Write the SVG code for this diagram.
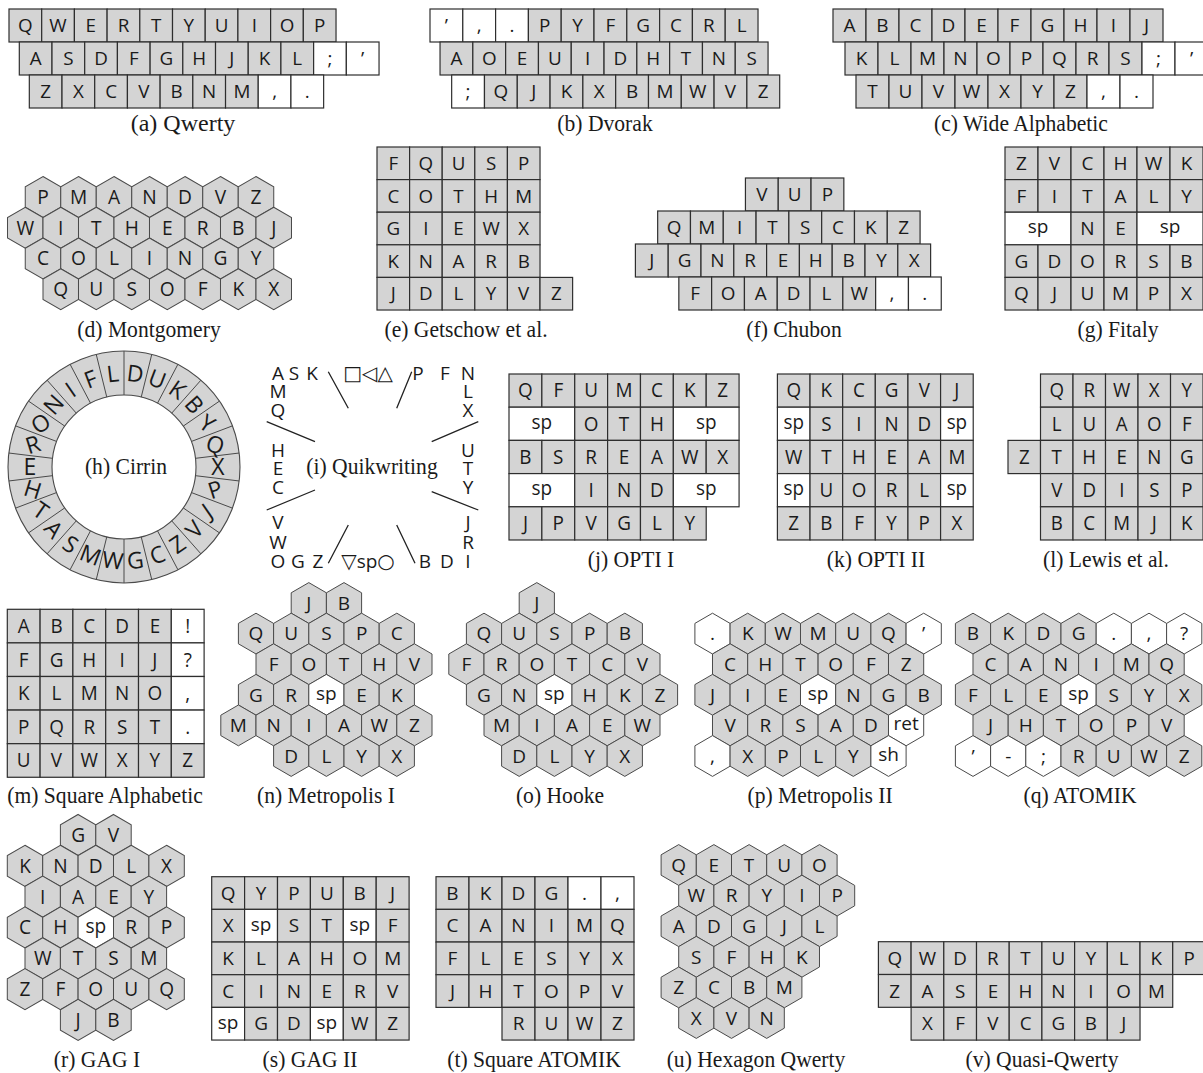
<svg xmlns="http://www.w3.org/2000/svg" width="1203" height="1073" viewBox="0 0 1203 1073">
<style>
text{font-family:"Open Sans","Noto Sans","DejaVu Sans",sans-serif;font-size:19px;text-anchor:middle;fill:#1a1a1a}
text.c{font-family:"Liberation Serif","Times New Roman",serif;font-size:24px}
text.cr{font-size:23px}
tspan.sy{font-family:"DejaVu Sans",sans-serif;font-size:20px}
.ln{stroke:#222;stroke-width:1.3;fill:none}
</style>
<defs>
<rect id="kg" width="33" height="33" fill="#d4d4d4" stroke="#2e2e2e" stroke-width="1.2"/>
<rect id="kw" width="33" height="33" fill="#ffffff" stroke="#2e2e2e" stroke-width="1.2"/>
<rect id="kw2" width="66" height="33" fill="#ffffff" stroke="#2e2e2e" stroke-width="1.2"/>
<path id="hg" d="M0,-20.4L17.6,-10.2L17.6,10.2L0,20.4L-17.6,10.2L-17.6,-10.2Z" fill="#d4d4d4" stroke="#4a4a4a" stroke-width="1"/>
<path id="hw" d="M0,-20.4L17.6,-10.2L17.6,10.2L0,20.4L-17.6,10.2L-17.6,-10.2Z" fill="#ffffff" stroke="#4a4a4a" stroke-width="1"/>
</defs>
<rect width="1203" height="1073" fill="#ffffff"/>

<!-- (a) Qwerty -->
<g id="a-qwerty">
<g transform="translate(9,9) scale(0.991,1)">
<g>
<use href="#kg"/><use href="#kg" x="33"/><use href="#kg" x="66"/><use href="#kg" x="99"/><use href="#kg" x="132"/><use href="#kg" x="165"/><use href="#kg" x="198"/><use href="#kg" x="231"/><use href="#kg" x="264"/><use href="#kg" x="297"/>
<text x="16.5" y="23.3">Q</text><text x="49.5" y="23.3">W</text><text x="82.5" y="23.3">E</text><text x="115.5" y="23.3">R</text><text x="148.5" y="23.3">T</text><text x="181.5" y="23.3">Y</text><text x="214.5" y="23.3">U</text><text x="247.5" y="23.3">I</text><text x="280.5" y="23.3">O</text><text x="313.5" y="23.3">P</text>
</g>
<g transform="translate(10.4,33)">
<use href="#kg"/><use href="#kg" x="33"/><use href="#kg" x="66"/><use href="#kg" x="99"/><use href="#kg" x="132"/><use href="#kg" x="165"/><use href="#kg" x="198"/><use href="#kg" x="231"/><use href="#kg" x="264"/><use href="#kw" x="297"/><use href="#kw" x="330"/>
<text x="16.5" y="23.3">A</text><text x="49.5" y="23.3">S</text><text x="82.5" y="23.3">D</text><text x="115.5" y="23.3">F</text><text x="148.5" y="23.3">G</text><text x="181.5" y="23.3">H</text><text x="214.5" y="23.3">J</text><text x="247.5" y="23.3">K</text><text x="280.5" y="23.3">L</text><text x="313.5" y="23.3">;</text><text x="346.5" y="23.3">’</text>
</g>
<g transform="translate(20.5,66)">
<use href="#kg"/><use href="#kg" x="33"/><use href="#kg" x="66"/><use href="#kg" x="99"/><use href="#kg" x="132"/><use href="#kg" x="165"/><use href="#kg" x="198"/><use href="#kw" x="231"/><use href="#kw" x="264"/>
<text x="16.5" y="23.3">Z</text><text x="49.5" y="23.3">X</text><text x="82.5" y="23.3">C</text><text x="115.5" y="23.3">V</text><text x="148.5" y="23.3">B</text><text x="181.5" y="23.3">N</text><text x="214.5" y="23.3">M</text><text x="247.5" y="23.3">,</text><text x="280.5" y="23.3">.</text>
</g>
</g>
<text class="c" transform="translate(183,131)">(a) Qwerty</text>
</g>

<!-- (b) Dvorak -->
<g id="b-dvorak">
<g transform="translate(430,9) scale(0.994,1)">
<g>
<use href="#kw"/><use href="#kw" x="33"/><use href="#kw" x="66"/><use href="#kg" x="99"/><use href="#kg" x="132"/><use href="#kg" x="165"/><use href="#kg" x="198"/><use href="#kg" x="231"/><use href="#kg" x="264"/><use href="#kg" x="297"/>
<text x="16.5" y="23.3">’</text><text x="49.5" y="23.3">,</text><text x="82.5" y="23.3">.</text><text x="115.5" y="23.3">P</text><text x="148.5" y="23.3">Y</text><text x="181.5" y="23.3">F</text><text x="214.5" y="23.3">G</text><text x="247.5" y="23.3">C</text><text x="280.5" y="23.3">R</text><text x="313.5" y="23.3">L</text>
</g>
<g transform="translate(10.1,33)">
<use href="#kg"/><use href="#kg" x="33"/><use href="#kg" x="66"/><use href="#kg" x="99"/><use href="#kg" x="132"/><use href="#kg" x="165"/><use href="#kg" x="198"/><use href="#kg" x="231"/><use href="#kg" x="264"/><use href="#kg" x="297"/>
<text x="16.5" y="23.3">A</text><text x="49.5" y="23.3">O</text><text x="82.5" y="23.3">E</text><text x="115.5" y="23.3">U</text><text x="148.5" y="23.3">I</text><text x="181.5" y="23.3">D</text><text x="214.5" y="23.3">H</text><text x="247.5" y="23.3">T</text><text x="280.5" y="23.3">N</text><text x="313.5" y="23.3">S</text>
</g>
<g transform="translate(21.8,66)">
<use href="#kw"/><use href="#kg" x="33"/><use href="#kg" x="66"/><use href="#kg" x="99"/><use href="#kg" x="132"/><use href="#kg" x="165"/><use href="#kg" x="198"/><use href="#kg" x="231"/><use href="#kg" x="264"/><use href="#kg" x="297"/>
<text x="16.5" y="23.3">;</text><text x="49.5" y="23.3">Q</text><text x="82.5" y="23.3">J</text><text x="115.5" y="23.3">K</text><text x="148.5" y="23.3">X</text><text x="181.5" y="23.3">B</text><text x="214.5" y="23.3">M</text><text x="247.5" y="23.3">W</text><text x="280.5" y="23.3">V</text><text x="313.5" y="23.3">Z</text>
</g>
</g>
<text class="c" transform="translate(605,131) scale(0.9,1)">(b) Dvorak</text>
</g>

<!-- (c) Wide Alphabetic -->
<g id="c-wide-alphabetic">
<g transform="translate(833,9)">
<g>
<use href="#kg"/><use href="#kg" x="33"/><use href="#kg" x="66"/><use href="#kg" x="99"/><use href="#kg" x="132"/><use href="#kg" x="165"/><use href="#kg" x="198"/><use href="#kg" x="231"/><use href="#kg" x="264"/><use href="#kg" x="297"/>
<text x="16.5" y="23.3">A</text><text x="49.5" y="23.3">B</text><text x="82.5" y="23.3">C</text><text x="115.5" y="23.3">D</text><text x="148.5" y="23.3">E</text><text x="181.5" y="23.3">F</text><text x="214.5" y="23.3">G</text><text x="247.5" y="23.3">H</text><text x="280.5" y="23.3">I</text><text x="313.5" y="23.3">J</text>
</g>
<g transform="translate(12,33)">
<use href="#kg"/><use href="#kg" x="33"/><use href="#kg" x="66"/><use href="#kg" x="99"/><use href="#kg" x="132"/><use href="#kg" x="165"/><use href="#kg" x="198"/><use href="#kg" x="231"/><use href="#kg" x="264"/><use href="#kw" x="297"/><use href="#kw" x="330"/>
<text x="16.5" y="23.3">K</text><text x="49.5" y="23.3">L</text><text x="82.5" y="23.3">M</text><text x="115.5" y="23.3">N</text><text x="148.5" y="23.3">O</text><text x="181.5" y="23.3">P</text><text x="214.5" y="23.3">Q</text><text x="247.5" y="23.3">R</text><text x="280.5" y="23.3">S</text><text x="313.5" y="23.3">;</text><text x="346.5" y="23.3">’</text>
</g>
<g transform="translate(23,66)">
<use href="#kg"/><use href="#kg" x="33"/><use href="#kg" x="66"/><use href="#kg" x="99"/><use href="#kg" x="132"/><use href="#kg" x="165"/><use href="#kg" x="198"/><use href="#kw" x="231"/><use href="#kw" x="264"/>
<text x="16.5" y="23.3">T</text><text x="49.5" y="23.3">U</text><text x="82.5" y="23.3">V</text><text x="115.5" y="23.3">W</text><text x="148.5" y="23.3">X</text><text x="181.5" y="23.3">Y</text><text x="214.5" y="23.3">Z</text><text x="247.5" y="23.3">,</text><text x="280.5" y="23.3">.</text>
</g>
</g>
<text class="c" transform="translate(1021,131) scale(0.9,1)">(c) Wide Alphabetic</text>
</g>

<!-- (d) Montgomery -->
<g id="d-montgomery">
<g transform="translate(43,197) scale(1.0085,1.005)">
<g>
<use href="#hg"/><use href="#hg" x="35.2"/><use href="#hg" x="70.4"/><use href="#hg" x="105.6"/><use href="#hg" x="140.8"/><use href="#hg" x="176"/><use href="#hg" x="211.2"/>
<text x="0" y="6.8">P</text><text x="35.2" y="6.8">M</text><text x="70.4" y="6.8">A</text><text x="105.6" y="6.8">N</text><text x="140.8" y="6.8">D</text><text x="176" y="6.8">V</text><text x="211.2" y="6.8">Z</text>
</g>
<g transform="translate(-17.6,30.6)">
<use href="#hg"/><use href="#hg" x="35.2"/><use href="#hg" x="70.4"/><use href="#hg" x="105.6"/><use href="#hg" x="140.8"/><use href="#hg" x="176"/><use href="#hg" x="211.2"/><use href="#hg" x="246.4"/>
<text x="0" y="6.8">W</text><text x="35.2" y="6.8">I</text><text x="70.4" y="6.8">T</text><text x="105.6" y="6.8">H</text><text x="140.8" y="6.8">E</text><text x="176" y="6.8">R</text><text x="211.2" y="6.8">B</text><text x="246.4" y="6.8">J</text>
</g>
<g transform="translate(0,61.2)">
<use href="#hg"/><use href="#hg" x="35.2"/><use href="#hg" x="70.4"/><use href="#hg" x="105.6"/><use href="#hg" x="140.8"/><use href="#hg" x="176"/><use href="#hg" x="211.2"/>
<text x="0" y="6.8">C</text><text x="35.2" y="6.8">O</text><text x="70.4" y="6.8">L</text><text x="105.6" y="6.8">I</text><text x="140.8" y="6.8">N</text><text x="176" y="6.8">G</text><text x="211.2" y="6.8">Y</text>
</g>
<g transform="translate(17.6,91.8)">
<use href="#hg"/><use href="#hg" x="35.2"/><use href="#hg" x="70.4"/><use href="#hg" x="105.6"/><use href="#hg" x="140.8"/><use href="#hg" x="176"/><use href="#hg" x="211.2"/>
<text x="0" y="6.8">Q</text><text x="35.2" y="6.8">U</text><text x="70.4" y="6.8">S</text><text x="105.6" y="6.8">O</text><text x="140.8" y="6.8">F</text><text x="176" y="6.8">K</text><text x="211.2" y="6.8">X</text>
</g>
</g>
<text class="c" transform="translate(149,337) scale(0.9,1)">(d) Montgomery</text>
</g>

<!-- (e) Getschow et al. -->
<g id="e-getschow">
<g transform="translate(377,147) scale(0.988,0.988)">
<g>
<use href="#kg"/><use href="#kg" x="33"/><use href="#kg" x="66"/><use href="#kg" x="99"/><use href="#kg" x="132"/>
<text x="16.5" y="23.3">F</text><text x="49.5" y="23.3">Q</text><text x="82.5" y="23.3">U</text><text x="115.5" y="23.3">S</text><text x="148.5" y="23.3">P</text>
</g>
<g transform="translate(0,33)">
<use href="#kg"/><use href="#kg" x="33"/><use href="#kg" x="66"/><use href="#kg" x="99"/><use href="#kg" x="132"/>
<text x="16.5" y="23.3">C</text><text x="49.5" y="23.3">O</text><text x="82.5" y="23.3">T</text><text x="115.5" y="23.3">H</text><text x="148.5" y="23.3">M</text>
</g>
<g transform="translate(0,66)">
<use href="#kg"/><use href="#kg" x="33"/><use href="#kg" x="66"/><use href="#kg" x="99"/><use href="#kg" x="132"/>
<text x="16.5" y="23.3">G</text><text x="49.5" y="23.3">I</text><text x="82.5" y="23.3">E</text><text x="115.5" y="23.3">W</text><text x="148.5" y="23.3">X</text>
</g>
<g transform="translate(0,99)">
<use href="#kg"/><use href="#kg" x="33"/><use href="#kg" x="66"/><use href="#kg" x="99"/><use href="#kg" x="132"/>
<text x="16.5" y="23.3">K</text><text x="49.5" y="23.3">N</text><text x="82.5" y="23.3">A</text><text x="115.5" y="23.3">R</text><text x="148.5" y="23.3">B</text>
</g>
<g transform="translate(0,132)">
<use href="#kg"/><use href="#kg" x="33"/><use href="#kg" x="66"/><use href="#kg" x="99"/><use href="#kg" x="132"/><use href="#kg" x="165"/>
<text x="16.5" y="23.3">J</text><text x="49.5" y="23.3">D</text><text x="82.5" y="23.3">L</text><text x="115.5" y="23.3">Y</text><text x="148.5" y="23.3">V</text><text x="181.5" y="23.3">Z</text>
</g>
</g>
<text class="c" transform="translate(466,337) scale(0.9,1)">(e) Getschow et al.</text>
</g>

<!-- (f) Chubon -->
<g id="f-chubon">
<g transform="translate(635.4,178) scale(0.994,1)">
<g transform="translate(110.7,0)">
<use href="#kg"/><use href="#kg" x="33"/><use href="#kg" x="66"/>
<text x="16.5" y="23.3">V</text><text x="49.5" y="23.3">U</text><text x="82.5" y="23.3">P</text>
</g>
<g transform="translate(22.4,33)">
<use href="#kg"/><use href="#kg" x="33"/><use href="#kg" x="66"/><use href="#kg" x="99"/><use href="#kg" x="132"/><use href="#kg" x="165"/><use href="#kg" x="198"/><use href="#kg" x="231"/>
<text x="16.5" y="23.3">Q</text><text x="49.5" y="23.3">M</text><text x="82.5" y="23.3">I</text><text x="115.5" y="23.3">T</text><text x="148.5" y="23.3">S</text><text x="181.5" y="23.3">C</text><text x="214.5" y="23.3">K</text><text x="247.5" y="23.3">Z</text>
</g>
<g transform="translate(0,66)">
<use href="#kg"/><use href="#kg" x="33"/><use href="#kg" x="66"/><use href="#kg" x="99"/><use href="#kg" x="132"/><use href="#kg" x="165"/><use href="#kg" x="198"/><use href="#kg" x="231"/><use href="#kg" x="264"/>
<text x="16.5" y="23.3">J</text><text x="49.5" y="23.3">G</text><text x="82.5" y="23.3">N</text><text x="115.5" y="23.3">R</text><text x="148.5" y="23.3">E</text><text x="181.5" y="23.3">H</text><text x="214.5" y="23.3">B</text><text x="247.5" y="23.3">Y</text><text x="280.5" y="23.3">X</text>
</g>
<g transform="translate(43.7,99)">
<use href="#kg"/><use href="#kg" x="33"/><use href="#kg" x="66"/><use href="#kg" x="99"/><use href="#kg" x="132"/><use href="#kg" x="165"/><use href="#kw" x="198"/><use href="#kw" x="231"/>
<text x="16.5" y="23.3">F</text><text x="49.5" y="23.3">O</text><text x="82.5" y="23.3">A</text><text x="115.5" y="23.3">D</text><text x="148.5" y="23.3">L</text><text x="181.5" y="23.3">W</text><text x="214.5" y="23.3">,</text><text x="247.5" y="23.3">.</text>
</g>
</g>
<text class="c" transform="translate(794,337) scale(0.9,1)">(f) Chubon</text>
</g>

<!-- (g) Fitaly -->
<g id="g-fitaly">
<g transform="translate(1005,147) scale(1,0.988)">
<g>
<use href="#kg"/><use href="#kg" x="33"/><use href="#kg" x="66"/><use href="#kg" x="99"/><use href="#kg" x="132"/><use href="#kg" x="165"/>
<text x="16.5" y="23.3">Z</text><text x="49.5" y="23.3">V</text><text x="82.5" y="23.3">C</text><text x="115.5" y="23.3">H</text><text x="148.5" y="23.3">W</text><text x="181.5" y="23.3">K</text>
</g>
<g transform="translate(0,33)">
<use href="#kg"/><use href="#kg" x="33"/><use href="#kg" x="66"/><use href="#kg" x="99"/><use href="#kg" x="132"/><use href="#kg" x="165"/>
<text x="16.5" y="23.3">F</text><text x="49.5" y="23.3">I</text><text x="82.5" y="23.3">T</text><text x="115.5" y="23.3">A</text><text x="148.5" y="23.3">L</text><text x="181.5" y="23.3">Y</text>
</g>
<g transform="translate(0,66)">
<use href="#kw2"/><use href="#kg" x="66"/><use href="#kg" x="99"/><use href="#kw2" x="132"/>
<text x="33" y="21.5">sp</text><text x="82.5" y="23.3">N</text><text x="115.5" y="23.3">E</text><text x="165" y="21.5">sp</text>
</g>
<g transform="translate(0,99)">
<use href="#kg"/><use href="#kg" x="33"/><use href="#kg" x="66"/><use href="#kg" x="99"/><use href="#kg" x="132"/><use href="#kg" x="165"/>
<text x="16.5" y="23.3">G</text><text x="49.5" y="23.3">D</text><text x="82.5" y="23.3">O</text><text x="115.5" y="23.3">R</text><text x="148.5" y="23.3">S</text><text x="181.5" y="23.3">B</text>
</g>
<g transform="translate(0,132)">
<use href="#kg"/><use href="#kg" x="33"/><use href="#kg" x="66"/><use href="#kg" x="99"/><use href="#kg" x="132"/><use href="#kg" x="165"/>
<text x="16.5" y="23.3">Q</text><text x="49.5" y="23.3">J</text><text x="82.5" y="23.3">U</text><text x="115.5" y="23.3">M</text><text x="148.5" y="23.3">P</text><text x="181.5" y="23.3">X</text>
</g>
</g>
<text class="c" transform="translate(1118,337) scale(0.9,1)">(g) Fitaly</text>
</g>

<!-- (h) Cirrin -->
<g id="h-cirrin">
<circle cx="124" cy="467" r="116" fill="#d4d4d4" stroke="#4a4a4a" stroke-width="1.1"/>
<circle cx="124" cy="467" r="72" fill="#ffffff" stroke="#4a4a4a" stroke-width="1.1"/>
<path stroke="#4a4a4a" stroke-width="1" fill="none" d="M124,395L124,351M141.23,397.1L151.76,354.38M157.46,403.24L177.91,364.28M171.74,413.11L200.92,380.17M183.26,426.1L219.47,401.1M191.32,441.47L232.46,425.87M195.47,458.32L239.15,453.02M195.47,475.68L239.15,480.98M191.32,492.53L232.46,508.13M183.26,507.9L219.47,532.9M171.74,520.89L200.92,553.83M157.46,530.76L177.91,569.72M141.23,536.9L151.76,579.62M124,539L124,583M106.77,536.9L96.24,579.62M90.54,530.76L70.09,569.72M76.26,520.89L47.08,553.83M64.74,507.9L28.53,532.9M56.68,492.53L15.54,508.13M52.53,475.68L8.85,480.98M52.53,458.32L8.85,453.02M56.68,441.47L15.54,425.87M64.74,426.1L28.53,401.1M76.26,413.11L47.08,380.17M90.54,403.24L70.09,364.28M106.77,397.1L96.24,354.38"/>
<g transform="translate(135.33,373.69) rotate(6.9)"><text class="cr" y="8.2">D</text></g>
<g transform="translate(157.33,379.11) rotate(20.8)"><text class="cr" y="8.2">U</text></g>
<g transform="translate(177.4,389.64) rotate(34.6)"><text class="cr" y="8.2">K</text></g>
<g transform="translate(194.36,404.67) rotate(48.5)"><text class="cr" y="8.2">B</text></g>
<g transform="translate(207.24,423.32) rotate(34.6)"><text class="cr" y="8.2">Y</text></g>
<g transform="translate(215.26,444.51) rotate(17.3)"><text class="cr" y="8.2">Q</text></g>
<g transform="translate(218,467)"><text class="cr" y="8.2">X</text></g>
<g transform="translate(215.26,489.49) rotate(-17.3)"><text class="cr" y="8.2">P</text></g>
<g transform="translate(207.24,510.68) rotate(-34.6)"><text class="cr" y="8.2">J</text></g>
<g transform="translate(194.36,529.33) rotate(-48.5)"><text class="cr" y="8.2">V</text></g>
<g transform="translate(177.4,544.36) rotate(-34.6)"><text class="cr" y="8.2">Z</text></g>
<g transform="translate(157.33,554.89) rotate(-20.8)"><text class="cr" y="8.2">C</text></g>
<g transform="translate(135.33,560.31) rotate(-6.9)"><text class="cr" y="8.2">G</text></g>
<g transform="translate(112.67,560.31) rotate(6.9)"><text class="cr" y="8.2">W</text></g>
<g transform="translate(90.67,554.89) rotate(20.8)"><text class="cr" y="8.2">M</text></g>
<g transform="translate(70.6,544.36) rotate(34.6)"><text class="cr" y="8.2">S</text></g>
<g transform="translate(53.64,529.33) rotate(48.5)"><text class="cr" y="8.2">A</text></g>
<g transform="translate(40.76,510.68) rotate(34.6)"><text class="cr" y="8.2">T</text></g>
<g transform="translate(32.74,489.49) rotate(17.3)"><text class="cr" y="8.2">H</text></g>
<g transform="translate(30,467)"><text class="cr" y="8.2">E</text></g>
<g transform="translate(32.74,444.51) rotate(-17.3)"><text class="cr" y="8.2">R</text></g>
<g transform="translate(40.76,423.32) rotate(-34.6)"><text class="cr" y="8.2">O</text></g>
<g transform="translate(53.64,404.67) rotate(-48.5)"><text class="cr" y="8.2">N</text></g>
<g transform="translate(70.6,389.64) rotate(-34.6)"><text class="cr" y="8.2">I</text></g>
<g transform="translate(90.67,379.11) rotate(-20.8)"><text class="cr" y="8.2">F</text></g>
<g transform="translate(112.67,373.69) rotate(-6.9)"><text class="cr" y="8.2">L</text></g>
<text class="c" transform="translate(126,474) scale(0.9,1)">(h) Cirrin</text>
</g>

<!-- (i) Quikwriting -->
<g id="i-quikwriting">
<text><tspan x="278" y="380">A</tspan><tspan x="294" y="380">S</tspan><tspan x="312" y="380">K</tspan><tspan x="278" y="398">M</tspan><tspan x="278" y="417">Q</tspan></text>
<text><tspan class="sy" x="368" y="380">□◁△</tspan></text>
<text><tspan x="418" y="380">P</tspan><tspan x="445" y="380">F</tspan><tspan x="468" y="380">N</tspan><tspan x="468" y="398">L</tspan><tspan x="468" y="417">X</tspan></text>
<text><tspan x="278" y="457">H</tspan><tspan x="278" y="475">E</tspan><tspan x="278" y="494">C</tspan></text>
<text><tspan x="468" y="457">U</tspan><tspan x="468" y="475">T</tspan><tspan x="468" y="494">Y</tspan></text>
<text><tspan x="278" y="529">V</tspan><tspan x="278" y="549">W</tspan><tspan x="278" y="568">O</tspan><tspan x="298" y="568">G</tspan><tspan x="318" y="568">Z</tspan></text>
<text x="368" y="568"><tspan class="sy">▽</tspan>sp<tspan class="sy">○</tspan></text>
<text><tspan x="468" y="529">J</tspan><tspan x="468" y="549">R</tspan><tspan x="425" y="568">B</tspan><tspan x="447" y="568">D</tspan><tspan x="468" y="568">I</tspan></text>
<g id="quik-lines" class="ln">
<path d="M328.3,371.7L348.3,408.3M411.7,371.7L396.7,408.3M266.7,421.7L315,441.7M478.3,421.7L431.7,441.7M315,490L266.7,510M431.7,491.7L478.3,510M348.3,525L328.3,563.3M396.7,525L415,563.3"/>
</g>
<text class="c" transform="translate(372,474) scale(0.9,1)">(i) Quikwriting</text>
</g>

<!-- (j) OPTI I -->
<g id="j-opti1">
<g transform="translate(509,374) scale(0.996,1.006)">
<g>
<use href="#kg"/><use href="#kg" x="33"/><use href="#kg" x="66"/><use href="#kg" x="99"/><use href="#kg" x="132"/><use href="#kg" x="165"/><use href="#kg" x="198"/>
<text x="16.5" y="23.3">Q</text><text x="49.5" y="23.3">F</text><text x="82.5" y="23.3">U</text><text x="115.5" y="23.3">M</text><text x="148.5" y="23.3">C</text><text x="181.5" y="23.3">K</text><text x="214.5" y="23.3">Z</text>
</g>
<g transform="translate(0,33)">
<use href="#kw2"/><use href="#kg" x="66"/><use href="#kg" x="99"/><use href="#kg" x="132"/><use href="#kw2" x="165"/>
<text x="33" y="21.5">sp</text><text x="82.5" y="23.3">O</text><text x="115.5" y="23.3">T</text><text x="148.5" y="23.3">H</text><text x="198" y="21.5">sp</text>
</g>
<g transform="translate(0,66)">
<use href="#kg"/><use href="#kg" x="33"/><use href="#kg" x="66"/><use href="#kg" x="99"/><use href="#kg" x="132"/><use href="#kg" x="165"/><use href="#kg" x="198"/>
<text x="16.5" y="23.3">B</text><text x="49.5" y="23.3">S</text><text x="82.5" y="23.3">R</text><text x="115.5" y="23.3">E</text><text x="148.5" y="23.3">A</text><text x="181.5" y="23.3">W</text><text x="214.5" y="23.3">X</text>
</g>
<g transform="translate(0,99)">
<use href="#kw2"/><use href="#kg" x="66"/><use href="#kg" x="99"/><use href="#kg" x="132"/><use href="#kw2" x="165"/>
<text x="33" y="21.5">sp</text><text x="82.5" y="23.3">I</text><text x="115.5" y="23.3">N</text><text x="148.5" y="23.3">D</text><text x="198" y="21.5">sp</text>
</g>
<g transform="translate(0,132)">
<use href="#kg"/><use href="#kg" x="33"/><use href="#kg" x="66"/><use href="#kg" x="99"/><use href="#kg" x="132"/><use href="#kg" x="165"/>
<text x="16.5" y="23.3">J</text><text x="49.5" y="23.3">P</text><text x="82.5" y="23.3">V</text><text x="115.5" y="23.3">G</text><text x="148.5" y="23.3">L</text><text x="181.5" y="23.3">Y</text>
</g>
</g>
<text class="c" transform="translate(631,567) scale(0.9,1)">(j) OPTI I</text>
</g>

<!-- (k) OPTI II -->
<g id="k-opti2">
<g transform="translate(777.4,374) scale(0.989,1.006)">
<g>
<use href="#kg"/><use href="#kg" x="33"/><use href="#kg" x="66"/><use href="#kg" x="99"/><use href="#kg" x="132"/><use href="#kg" x="165"/>
<text x="16.5" y="23.3">Q</text><text x="49.5" y="23.3">K</text><text x="82.5" y="23.3">C</text><text x="115.5" y="23.3">G</text><text x="148.5" y="23.3">V</text><text x="181.5" y="23.3">J</text>
</g>
<g transform="translate(0,33)">
<use href="#kw"/><use href="#kg" x="33"/><use href="#kg" x="66"/><use href="#kg" x="99"/><use href="#kg" x="132"/><use href="#kw" x="165"/>
<text x="16.5" y="21.5">sp</text><text x="49.5" y="23.3">S</text><text x="82.5" y="23.3">I</text><text x="115.5" y="23.3">N</text><text x="148.5" y="23.3">D</text><text x="181.5" y="21.5">sp</text>
</g>
<g transform="translate(0,66)">
<use href="#kg"/><use href="#kg" x="33"/><use href="#kg" x="66"/><use href="#kg" x="99"/><use href="#kg" x="132"/><use href="#kg" x="165"/>
<text x="16.5" y="23.3">W</text><text x="49.5" y="23.3">T</text><text x="82.5" y="23.3">H</text><text x="115.5" y="23.3">E</text><text x="148.5" y="23.3">A</text><text x="181.5" y="23.3">M</text>
</g>
<g transform="translate(0,99)">
<use href="#kw"/><use href="#kg" x="33"/><use href="#kg" x="66"/><use href="#kg" x="99"/><use href="#kg" x="132"/><use href="#kw" x="165"/>
<text x="16.5" y="21.5">sp</text><text x="49.5" y="23.3">U</text><text x="82.5" y="23.3">O</text><text x="115.5" y="23.3">R</text><text x="148.5" y="23.3">L</text><text x="181.5" y="21.5">sp</text>
</g>
<g transform="translate(0,132)">
<use href="#kg"/><use href="#kg" x="33"/><use href="#kg" x="66"/><use href="#kg" x="99"/><use href="#kg" x="132"/><use href="#kg" x="165"/>
<text x="16.5" y="23.3">Z</text><text x="49.5" y="23.3">B</text><text x="82.5" y="23.3">F</text><text x="115.5" y="23.3">Y</text><text x="148.5" y="23.3">P</text><text x="181.5" y="23.3">X</text>
</g>
</g>
<text class="c" transform="translate(876,567) scale(0.9,1)">(k) OPTI II</text>
</g>

<!-- (l) Lewis et al. -->
<g id="l-lewis">
<g transform="translate(1008,374) scale(0.985,1.006)">
<g transform="translate(33,0)">
<use href="#kg"/><use href="#kg" x="33"/><use href="#kg" x="66"/><use href="#kg" x="99"/><use href="#kg" x="132"/>
<text x="16.5" y="23.3">Q</text><text x="49.5" y="23.3">R</text><text x="82.5" y="23.3">W</text><text x="115.5" y="23.3">X</text><text x="148.5" y="23.3">Y</text>
</g>
<g transform="translate(33,33)">
<use href="#kg"/><use href="#kg" x="33"/><use href="#kg" x="66"/><use href="#kg" x="99"/><use href="#kg" x="132"/>
<text x="16.5" y="23.3">L</text><text x="49.5" y="23.3">U</text><text x="82.5" y="23.3">A</text><text x="115.5" y="23.3">O</text><text x="148.5" y="23.3">F</text>
</g>
<g transform="translate(0,66)">
<use href="#kg"/><use href="#kg" x="33"/><use href="#kg" x="66"/><use href="#kg" x="99"/><use href="#kg" x="132"/><use href="#kg" x="165"/>
<text x="16.5" y="23.3">Z</text><text x="49.5" y="23.3">T</text><text x="82.5" y="23.3">H</text><text x="115.5" y="23.3">E</text><text x="148.5" y="23.3">N</text><text x="181.5" y="23.3">G</text>
</g>
<g transform="translate(33,99)">
<use href="#kg"/><use href="#kg" x="33"/><use href="#kg" x="66"/><use href="#kg" x="99"/><use href="#kg" x="132"/>
<text x="16.5" y="23.3">V</text><text x="49.5" y="23.3">D</text><text x="82.5" y="23.3">I</text><text x="115.5" y="23.3">S</text><text x="148.5" y="23.3">P</text>
</g>
<g transform="translate(33,132)">
<use href="#kg"/><use href="#kg" x="33"/><use href="#kg" x="66"/><use href="#kg" x="99"/><use href="#kg" x="132"/>
<text x="16.5" y="23.3">B</text><text x="49.5" y="23.3">C</text><text x="82.5" y="23.3">M</text><text x="115.5" y="23.3">J</text><text x="148.5" y="23.3">K</text>
</g>
</g>
<text class="c" transform="translate(1106,567) scale(0.9,1)">(l) Lewis et al.</text>
</g>

<!-- (m) Square Alphabetic -->
<g id="m-square-alphabetic">
<g transform="translate(7.3,609.3) scale(0.994,1.018)">
<g>
<use href="#kg"/><use href="#kg" x="33"/><use href="#kg" x="66"/><use href="#kg" x="99"/><use href="#kg" x="132"/><use href="#kw" x="165"/>
<text x="16.5" y="23.3">A</text><text x="49.5" y="23.3">B</text><text x="82.5" y="23.3">C</text><text x="115.5" y="23.3">D</text><text x="148.5" y="23.3">E</text><text x="181.5" y="23.3">!</text>
</g>
<g transform="translate(0,33)">
<use href="#kg"/><use href="#kg" x="33"/><use href="#kg" x="66"/><use href="#kg" x="99"/><use href="#kg" x="132"/><use href="#kw" x="165"/>
<text x="16.5" y="23.3">F</text><text x="49.5" y="23.3">G</text><text x="82.5" y="23.3">H</text><text x="115.5" y="23.3">I</text><text x="148.5" y="23.3">J</text><text x="181.5" y="23.3">?</text>
</g>
<g transform="translate(0,66)">
<use href="#kg"/><use href="#kg" x="33"/><use href="#kg" x="66"/><use href="#kg" x="99"/><use href="#kg" x="132"/><use href="#kw" x="165"/>
<text x="16.5" y="23.3">K</text><text x="49.5" y="23.3">L</text><text x="82.5" y="23.3">M</text><text x="115.5" y="23.3">N</text><text x="148.5" y="23.3">O</text><text x="181.5" y="23.3">,</text>
</g>
<g transform="translate(0,99)">
<use href="#kg"/><use href="#kg" x="33"/><use href="#kg" x="66"/><use href="#kg" x="99"/><use href="#kg" x="132"/><use href="#kw" x="165"/>
<text x="16.5" y="23.3">P</text><text x="49.5" y="23.3">Q</text><text x="82.5" y="23.3">R</text><text x="115.5" y="23.3">S</text><text x="148.5" y="23.3">T</text><text x="181.5" y="23.3">.</text>
</g>
<g transform="translate(0,132)">
<use href="#kg"/><use href="#kg" x="33"/><use href="#kg" x="66"/><use href="#kg" x="99"/><use href="#kg" x="132"/><use href="#kg" x="165"/>
<text x="16.5" y="23.3">U</text><text x="49.5" y="23.3">V</text><text x="82.5" y="23.3">W</text><text x="115.5" y="23.3">X</text><text x="148.5" y="23.3">Y</text><text x="181.5" y="23.3">Z</text>
</g>
</g>
<text class="c" transform="translate(105,803) scale(0.9,1)">(m) Square Alphabetic</text>
</g>

<!-- (n) Metropolis I -->
<g id="n-metropolis1">
<g transform="translate(256,603)">
<g transform="translate(52.8,0)">
<use href="#hg"/><use href="#hg" x="35.2"/>
<text x="0" y="6.8">J</text><text x="35.2" y="6.8">B</text>
</g>
<g transform="translate(0,30.6)">
<use href="#hg"/><use href="#hg" x="35.2"/><use href="#hg" x="70.4"/><use href="#hg" x="105.6"/><use href="#hg" x="140.8"/>
<text x="0" y="6.8">Q</text><text x="35.2" y="6.8">U</text><text x="70.4" y="6.8">S</text><text x="105.6" y="6.8">P</text><text x="140.8" y="6.8">C</text>
</g>
<g transform="translate(17.6,61.2)">
<use href="#hg"/><use href="#hg" x="35.2"/><use href="#hg" x="70.4"/><use href="#hg" x="105.6"/><use href="#hg" x="140.8"/>
<text x="0" y="6.8">F</text><text x="35.2" y="6.8">O</text><text x="70.4" y="6.8">T</text><text x="105.6" y="6.8">H</text><text x="140.8" y="6.8">V</text>
</g>
<g transform="translate(0,91.8)">
<use href="#hg"/><use href="#hg" x="35.2"/><use href="#hw" x="70.4"/><use href="#hg" x="105.6"/><use href="#hg" x="140.8"/>
<text x="0" y="6.8">G</text><text x="35.2" y="6.8">R</text><text x="70.4" y="5">sp</text><text x="105.6" y="6.8">E</text><text x="140.8" y="6.8">K</text>
</g>
<g transform="translate(-17.6,122.4)">
<use href="#hg"/><use href="#hg" x="35.2"/><use href="#hg" x="70.4"/><use href="#hg" x="105.6"/><use href="#hg" x="140.8"/><use href="#hg" x="176"/>
<text x="0" y="6.8">M</text><text x="35.2" y="6.8">N</text><text x="70.4" y="6.8">I</text><text x="105.6" y="6.8">A</text><text x="140.8" y="6.8">W</text><text x="176" y="6.8">Z</text>
</g>
<g transform="translate(35.2,153)">
<use href="#hg"/><use href="#hg" x="35.2"/><use href="#hg" x="70.4"/><use href="#hg" x="105.6"/>
<text x="0" y="6.8">D</text><text x="35.2" y="6.8">L</text><text x="70.4" y="6.8">Y</text><text x="105.6" y="6.8">X</text>
</g>
</g>
<text class="c" transform="translate(326,803) scale(0.9,1)">(n) Metropolis I</text>
</g>

<!-- (o) Hooke -->
<g id="o-hooke">
<g transform="translate(484,603)">
<g transform="translate(52.8,0)">
<use href="#hg"/>
<text x="0" y="6.8">J</text>
</g>
<g transform="translate(0,30.6)">
<use href="#hg"/><use href="#hg" x="35.2"/><use href="#hg" x="70.4"/><use href="#hg" x="105.6"/><use href="#hg" x="140.8"/>
<text x="0" y="6.8">Q</text><text x="35.2" y="6.8">U</text><text x="70.4" y="6.8">S</text><text x="105.6" y="6.8">P</text><text x="140.8" y="6.8">B</text>
</g>
<g transform="translate(-17.6,61.2)">
<use href="#hg"/><use href="#hg" x="35.2"/><use href="#hg" x="70.4"/><use href="#hg" x="105.6"/><use href="#hg" x="140.8"/><use href="#hg" x="176"/>
<text x="0" y="6.8">F</text><text x="35.2" y="6.8">R</text><text x="70.4" y="6.8">O</text><text x="105.6" y="6.8">T</text><text x="140.8" y="6.8">C</text><text x="176" y="6.8">V</text>
</g>
<g transform="translate(0,91.8)">
<use href="#hg"/><use href="#hg" x="35.2"/><use href="#hw" x="70.4"/><use href="#hg" x="105.6"/><use href="#hg" x="140.8"/><use href="#hg" x="176"/>
<text x="0" y="6.8">G</text><text x="35.2" y="6.8">N</text><text x="70.4" y="5">sp</text><text x="105.6" y="6.8">H</text><text x="140.8" y="6.8">K</text><text x="176" y="6.8">Z</text>
</g>
<g transform="translate(17.6,122.4)">
<use href="#hg"/><use href="#hg" x="35.2"/><use href="#hg" x="70.4"/><use href="#hg" x="105.6"/><use href="#hg" x="140.8"/>
<text x="0" y="6.8">M</text><text x="35.2" y="6.8">I</text><text x="70.4" y="6.8">A</text><text x="105.6" y="6.8">E</text><text x="140.8" y="6.8">W</text>
</g>
<g transform="translate(35.2,153)">
<use href="#hg"/><use href="#hg" x="35.2"/><use href="#hg" x="70.4"/><use href="#hg" x="105.6"/>
<text x="0" y="6.8">D</text><text x="35.2" y="6.8">L</text><text x="70.4" y="6.8">Y</text><text x="105.6" y="6.8">X</text>
</g>
</g>
<text class="c" transform="translate(560,803) scale(0.9,1)">(o) Hooke</text>
</g>

<!-- (p) Metropolis II -->
<g id="p-metropolis2">
<g transform="translate(712.5,633.6)">
<g>
<use href="#hw"/><use href="#hg" x="35.2"/><use href="#hg" x="70.4"/><use href="#hg" x="105.6"/><use href="#hg" x="140.8"/><use href="#hg" x="176"/><use href="#hw" x="211.2"/>
<text x="0" y="6.8">.</text><text x="35.2" y="6.8">K</text><text x="70.4" y="6.8">W</text><text x="105.6" y="6.8">M</text><text x="140.8" y="6.8">U</text><text x="176" y="6.8">Q</text><text x="211.2" y="6.8">’</text>
</g>
<g transform="translate(17.6,30.6)">
<use href="#hg"/><use href="#hg" x="35.2"/><use href="#hg" x="70.4"/><use href="#hg" x="105.6"/><use href="#hg" x="140.8"/><use href="#hg" x="176"/>
<text x="0" y="6.8">C</text><text x="35.2" y="6.8">H</text><text x="70.4" y="6.8">T</text><text x="105.6" y="6.8">O</text><text x="140.8" y="6.8">F</text><text x="176" y="6.8">Z</text>
</g>
<g transform="translate(0,61.2)">
<use href="#hg"/><use href="#hg" x="35.2"/><use href="#hg" x="70.4"/><use href="#hw" x="105.6"/><use href="#hg" x="140.8"/><use href="#hg" x="176"/><use href="#hg" x="211.2"/>
<text x="0" y="6.8">J</text><text x="35.2" y="6.8">I</text><text x="70.4" y="6.8">E</text><text x="105.6" y="5">sp</text><text x="140.8" y="6.8">N</text><text x="176" y="6.8">G</text><text x="211.2" y="6.8">B</text>
</g>
<g transform="translate(17.6,91.8)">
<use href="#hg"/><use href="#hg" x="35.2"/><use href="#hg" x="70.4"/><use href="#hg" x="105.6"/><use href="#hg" x="140.8"/><use href="#hw" x="176"/>
<text x="0" y="6.8">V</text><text x="35.2" y="6.8">R</text><text x="70.4" y="6.8">S</text><text x="105.6" y="6.8">A</text><text x="140.8" y="6.8">D</text><text x="176" y="5">ret</text>
</g>
<g transform="translate(0,122.4)">
<use href="#hw"/><use href="#hg" x="35.2"/><use href="#hg" x="70.4"/><use href="#hg" x="105.6"/><use href="#hg" x="140.8"/><use href="#hw" x="176"/>
<text x="0" y="6.8">,</text><text x="35.2" y="6.8">X</text><text x="70.4" y="6.8">P</text><text x="105.6" y="6.8">L</text><text x="140.8" y="6.8">Y</text><text x="176" y="5">sh</text>
</g>
</g>
<text class="c" transform="translate(820,803) scale(0.9,1)">(p) Metropolis II</text>
</g>

<!-- (q) ATOMIK -->
<g id="q-atomik">
<g transform="translate(973,633.6)">
<g>
<use href="#hg"/><use href="#hg" x="35.2"/><use href="#hg" x="70.4"/><use href="#hg" x="105.6"/><use href="#hw" x="140.8"/><use href="#hw" x="176"/><use href="#hw" x="211.2"/>
<text x="0" y="6.8">B</text><text x="35.2" y="6.8">K</text><text x="70.4" y="6.8">D</text><text x="105.6" y="6.8">G</text><text x="140.8" y="6.8">.</text><text x="176" y="6.8">,</text><text x="211.2" y="6.8">?</text>
</g>
<g transform="translate(17.6,30.6)">
<use href="#hg"/><use href="#hg" x="35.2"/><use href="#hg" x="70.4"/><use href="#hg" x="105.6"/><use href="#hg" x="140.8"/><use href="#hg" x="176"/>
<text x="0" y="6.8">C</text><text x="35.2" y="6.8">A</text><text x="70.4" y="6.8">N</text><text x="105.6" y="6.8">I</text><text x="140.8" y="6.8">M</text><text x="176" y="6.8">Q</text>
</g>
<g transform="translate(0,61.2)">
<use href="#hg"/><use href="#hg" x="35.2"/><use href="#hg" x="70.4"/><use href="#hw" x="105.6"/><use href="#hg" x="140.8"/><use href="#hg" x="176"/><use href="#hg" x="211.2"/>
<text x="0" y="6.8">F</text><text x="35.2" y="6.8">L</text><text x="70.4" y="6.8">E</text><text x="105.6" y="5">sp</text><text x="140.8" y="6.8">S</text><text x="176" y="6.8">Y</text><text x="211.2" y="6.8">X</text>
</g>
<g transform="translate(17.6,91.8)">
<use href="#hg"/><use href="#hg" x="35.2"/><use href="#hg" x="70.4"/><use href="#hg" x="105.6"/><use href="#hg" x="140.8"/><use href="#hg" x="176"/>
<text x="0" y="6.8">J</text><text x="35.2" y="6.8">H</text><text x="70.4" y="6.8">T</text><text x="105.6" y="6.8">O</text><text x="140.8" y="6.8">P</text><text x="176" y="6.8">V</text>
</g>
<g transform="translate(0,122.4)">
<use href="#hw"/><use href="#hw" x="35.2"/><use href="#hw" x="70.4"/><use href="#hg" x="105.6"/><use href="#hg" x="140.8"/><use href="#hg" x="176"/><use href="#hg" x="211.2"/>
<text x="0" y="6.8">’</text><text x="35.2" y="6.8">-</text><text x="70.4" y="6.8">;</text><text x="105.6" y="6.8">R</text><text x="140.8" y="6.8">U</text><text x="176" y="6.8">W</text><text x="211.2" y="6.8">Z</text>
</g>
</g>
<text class="c" transform="translate(1080,803) scale(0.9,1)">(q) ATOMIK</text>
</g>

<!-- (r) GAG I -->
<g id="r-gag1">
<g transform="translate(25,835) scale(1.0057,1.0075)">
<g transform="translate(52.8,0)">
<use href="#hg"/><use href="#hg" x="35.2"/>
<text x="0" y="6.8">G</text><text x="35.2" y="6.8">V</text>
</g>
<g transform="translate(0,30.6)">
<use href="#hg"/><use href="#hg" x="35.2"/><use href="#hg" x="70.4"/><use href="#hg" x="105.6"/><use href="#hg" x="140.8"/>
<text x="0" y="6.8">K</text><text x="35.2" y="6.8">N</text><text x="70.4" y="6.8">D</text><text x="105.6" y="6.8">L</text><text x="140.8" y="6.8">X</text>
</g>
<g transform="translate(17.6,61.2)">
<use href="#hg"/><use href="#hg" x="35.2"/><use href="#hg" x="70.4"/><use href="#hg" x="105.6"/>
<text x="0" y="6.8">I</text><text x="35.2" y="6.8">A</text><text x="70.4" y="6.8">E</text><text x="105.6" y="6.8">Y</text>
</g>
<g transform="translate(0,91.8)">
<use href="#hg"/><use href="#hg" x="35.2"/><use href="#hw" x="70.4"/><use href="#hg" x="105.6"/><use href="#hg" x="140.8"/>
<text x="0" y="6.8">C</text><text x="35.2" y="6.8">H</text><text x="70.4" y="5">sp</text><text x="105.6" y="6.8">R</text><text x="140.8" y="6.8">P</text>
</g>
<g transform="translate(17.6,122.4)">
<use href="#hg"/><use href="#hg" x="35.2"/><use href="#hg" x="70.4"/><use href="#hg" x="105.6"/>
<text x="0" y="6.8">W</text><text x="35.2" y="6.8">T</text><text x="70.4" y="6.8">S</text><text x="105.6" y="6.8">M</text>
</g>
<g transform="translate(0,153)">
<use href="#hg"/><use href="#hg" x="35.2"/><use href="#hg" x="70.4"/><use href="#hg" x="105.6"/><use href="#hg" x="140.8"/>
<text x="0" y="6.8">Z</text><text x="35.2" y="6.8">F</text><text x="70.4" y="6.8">O</text><text x="105.6" y="6.8">U</text><text x="140.8" y="6.8">Q</text>
</g>
<g transform="translate(52.8,183.6)">
<use href="#hg"/><use href="#hg" x="35.2"/>
<text x="0" y="6.8">J</text><text x="35.2" y="6.8">B</text>
</g>
</g>
<text class="c" transform="translate(97,1067) scale(0.9,1)">(r) GAG I</text>
</g>

<!-- (s) GAG II -->
<g id="s-gag2">
<g transform="translate(211.7,876.7) scale(0.997,0.99)">
<g>
<use href="#kg"/><use href="#kg" x="33"/><use href="#kg" x="66"/><use href="#kg" x="99"/><use href="#kg" x="132"/><use href="#kg" x="165"/>
<text x="16.5" y="23.3">Q</text><text x="49.5" y="23.3">Y</text><text x="82.5" y="23.3">P</text><text x="115.5" y="23.3">U</text><text x="148.5" y="23.3">B</text><text x="181.5" y="23.3">J</text>
</g>
<g transform="translate(0,33)">
<use href="#kg"/><use href="#kw" x="33"/><use href="#kg" x="66"/><use href="#kg" x="99"/><use href="#kw" x="132"/><use href="#kg" x="165"/>
<text x="16.5" y="23.3">X</text><text x="49.5" y="21.5">sp</text><text x="82.5" y="23.3">S</text><text x="115.5" y="23.3">T</text><text x="148.5" y="21.5">sp</text><text x="181.5" y="23.3">F</text>
</g>
<g transform="translate(0,66)">
<use href="#kg"/><use href="#kg" x="33"/><use href="#kg" x="66"/><use href="#kg" x="99"/><use href="#kg" x="132"/><use href="#kg" x="165"/>
<text x="16.5" y="23.3">K</text><text x="49.5" y="23.3">L</text><text x="82.5" y="23.3">A</text><text x="115.5" y="23.3">H</text><text x="148.5" y="23.3">O</text><text x="181.5" y="23.3">M</text>
</g>
<g transform="translate(0,99)">
<use href="#kg"/><use href="#kg" x="33"/><use href="#kg" x="66"/><use href="#kg" x="99"/><use href="#kg" x="132"/><use href="#kg" x="165"/>
<text x="16.5" y="23.3">C</text><text x="49.5" y="23.3">I</text><text x="82.5" y="23.3">N</text><text x="115.5" y="23.3">E</text><text x="148.5" y="23.3">R</text><text x="181.5" y="23.3">V</text>
</g>
<g transform="translate(0,132)">
<use href="#kw"/><use href="#kg" x="33"/><use href="#kg" x="66"/><use href="#kw" x="99"/><use href="#kg" x="132"/><use href="#kg" x="165"/>
<text x="16.5" y="21.5">sp</text><text x="49.5" y="23.3">G</text><text x="82.5" y="23.3">D</text><text x="115.5" y="21.5">sp</text><text x="148.5" y="23.3">W</text><text x="181.5" y="23.3">Z</text>
</g>
</g>
<text class="c" transform="translate(310,1067) scale(0.9,1)">(s) GAG II</text>
</g>

<!-- (t) Square ATOMIK -->
<g id="t-square-atomik">
<g transform="translate(436,876.7) scale(1,0.99)">
<g>
<use href="#kg"/><use href="#kg" x="33"/><use href="#kg" x="66"/><use href="#kg" x="99"/><use href="#kw" x="132"/><use href="#kw" x="165"/>
<text x="16.5" y="23.3">B</text><text x="49.5" y="23.3">K</text><text x="82.5" y="23.3">D</text><text x="115.5" y="23.3">G</text><text x="148.5" y="23.3">.</text><text x="181.5" y="23.3">,</text>
</g>
<g transform="translate(0,33)">
<use href="#kg"/><use href="#kg" x="33"/><use href="#kg" x="66"/><use href="#kg" x="99"/><use href="#kg" x="132"/><use href="#kg" x="165"/>
<text x="16.5" y="23.3">C</text><text x="49.5" y="23.3">A</text><text x="82.5" y="23.3">N</text><text x="115.5" y="23.3">I</text><text x="148.5" y="23.3">M</text><text x="181.5" y="23.3">Q</text>
</g>
<g transform="translate(0,66)">
<use href="#kg"/><use href="#kg" x="33"/><use href="#kg" x="66"/><use href="#kg" x="99"/><use href="#kg" x="132"/><use href="#kg" x="165"/>
<text x="16.5" y="23.3">F</text><text x="49.5" y="23.3">L</text><text x="82.5" y="23.3">E</text><text x="115.5" y="23.3">S</text><text x="148.5" y="23.3">Y</text><text x="181.5" y="23.3">X</text>
</g>
<g transform="translate(0,99)">
<use href="#kg"/><use href="#kg" x="33"/><use href="#kg" x="66"/><use href="#kg" x="99"/><use href="#kg" x="132"/><use href="#kg" x="165"/>
<text x="16.5" y="23.3">J</text><text x="49.5" y="23.3">H</text><text x="82.5" y="23.3">T</text><text x="115.5" y="23.3">O</text><text x="148.5" y="23.3">P</text><text x="181.5" y="23.3">V</text>
</g>
<g transform="translate(66,132)">
<use href="#kg"/><use href="#kg" x="33"/><use href="#kg" x="66"/><use href="#kg" x="99"/>
<text x="16.5" y="23.3">R</text><text x="49.5" y="23.3">U</text><text x="82.5" y="23.3">W</text><text x="115.5" y="23.3">Z</text>
</g>
</g>
<text class="c" transform="translate(534,1067) scale(0.9,1)">(t) Square ATOMIK</text>
</g>

<!-- (u) Hexagon Qwerty -->
<g id="u-hexagon-qwerty">
<g transform="translate(678.7,865)">
<g>
<use href="#hg"/><use href="#hg" x="35.2"/><use href="#hg" x="70.4"/><use href="#hg" x="105.6"/><use href="#hg" x="140.8"/>
<text x="0" y="6.8">Q</text><text x="35.2" y="6.8">E</text><text x="70.4" y="6.8">T</text><text x="105.6" y="6.8">U</text><text x="140.8" y="6.8">O</text>
</g>
<g transform="translate(17.6,30.6)">
<use href="#hg"/><use href="#hg" x="35.2"/><use href="#hg" x="70.4"/><use href="#hg" x="105.6"/><use href="#hg" x="140.8"/>
<text x="0" y="6.8">W</text><text x="35.2" y="6.8">R</text><text x="70.4" y="6.8">Y</text><text x="105.6" y="6.8">I</text><text x="140.8" y="6.8">P</text>
</g>
<g transform="translate(0,61.2)">
<use href="#hg"/><use href="#hg" x="35.2"/><use href="#hg" x="70.4"/><use href="#hg" x="105.6"/><use href="#hg" x="140.8"/>
<text x="0" y="6.8">A</text><text x="35.2" y="6.8">D</text><text x="70.4" y="6.8">G</text><text x="105.6" y="6.8">J</text><text x="140.8" y="6.8">L</text>
</g>
<g transform="translate(17.6,91.8)">
<use href="#hg"/><use href="#hg" x="35.2"/><use href="#hg" x="70.4"/><use href="#hg" x="105.6"/>
<text x="0" y="6.8">S</text><text x="35.2" y="6.8">F</text><text x="70.4" y="6.8">H</text><text x="105.6" y="6.8">K</text>
</g>
<g transform="translate(0,122.4)">
<use href="#hg"/><use href="#hg" x="35.2"/><use href="#hg" x="70.4"/><use href="#hg" x="105.6"/>
<text x="0" y="6.8">Z</text><text x="35.2" y="6.8">C</text><text x="70.4" y="6.8">B</text><text x="105.6" y="6.8">M</text>
</g>
<g transform="translate(17.6,153)">
<use href="#hg"/><use href="#hg" x="35.2"/><use href="#hg" x="70.4"/>
<text x="0" y="6.8">X</text><text x="35.2" y="6.8">V</text><text x="70.4" y="6.8">N</text>
</g>
</g>
<text class="c" transform="translate(756,1067) scale(0.9,1)">(u) Hexagon Qwerty</text>
</g>

<!-- (v) Quasi-Qwerty -->
<g id="v-quasi-qwerty">
<g transform="translate(878.4,941.7) scale(0.991,0.994)">
<g>
<use href="#kg"/><use href="#kg" x="33"/><use href="#kg" x="66"/><use href="#kg" x="99"/><use href="#kg" x="132"/><use href="#kg" x="165"/><use href="#kg" x="198"/><use href="#kg" x="231"/><use href="#kg" x="264"/><use href="#kg" x="297"/>
<text x="16.5" y="23.3">Q</text><text x="49.5" y="23.3">W</text><text x="82.5" y="23.3">D</text><text x="115.5" y="23.3">R</text><text x="148.5" y="23.3">T</text><text x="181.5" y="23.3">U</text><text x="214.5" y="23.3">Y</text><text x="247.5" y="23.3">L</text><text x="280.5" y="23.3">K</text><text x="313.5" y="23.3">P</text>
</g>
<g transform="translate(0,33)">
<use href="#kg"/><use href="#kg" x="33"/><use href="#kg" x="66"/><use href="#kg" x="99"/><use href="#kg" x="132"/><use href="#kg" x="165"/><use href="#kg" x="198"/><use href="#kg" x="231"/><use href="#kg" x="264"/>
<text x="16.5" y="23.3">Z</text><text x="49.5" y="23.3">A</text><text x="82.5" y="23.3">S</text><text x="115.5" y="23.3">E</text><text x="148.5" y="23.3">H</text><text x="181.5" y="23.3">N</text><text x="214.5" y="23.3">I</text><text x="247.5" y="23.3">O</text><text x="280.5" y="23.3">M</text>
</g>
<g transform="translate(33,66)">
<use href="#kg"/><use href="#kg" x="33"/><use href="#kg" x="66"/><use href="#kg" x="99"/><use href="#kg" x="132"/><use href="#kg" x="165"/><use href="#kg" x="198"/>
<text x="16.5" y="23.3">X</text><text x="49.5" y="23.3">F</text><text x="82.5" y="23.3">V</text><text x="115.5" y="23.3">C</text><text x="148.5" y="23.3">G</text><text x="181.5" y="23.3">B</text><text x="214.5" y="23.3">J</text>
</g>
</g>
<text class="c" transform="translate(1042,1067) scale(0.9,1)">(v) Quasi-Qwerty</text>
</g>
</svg>
